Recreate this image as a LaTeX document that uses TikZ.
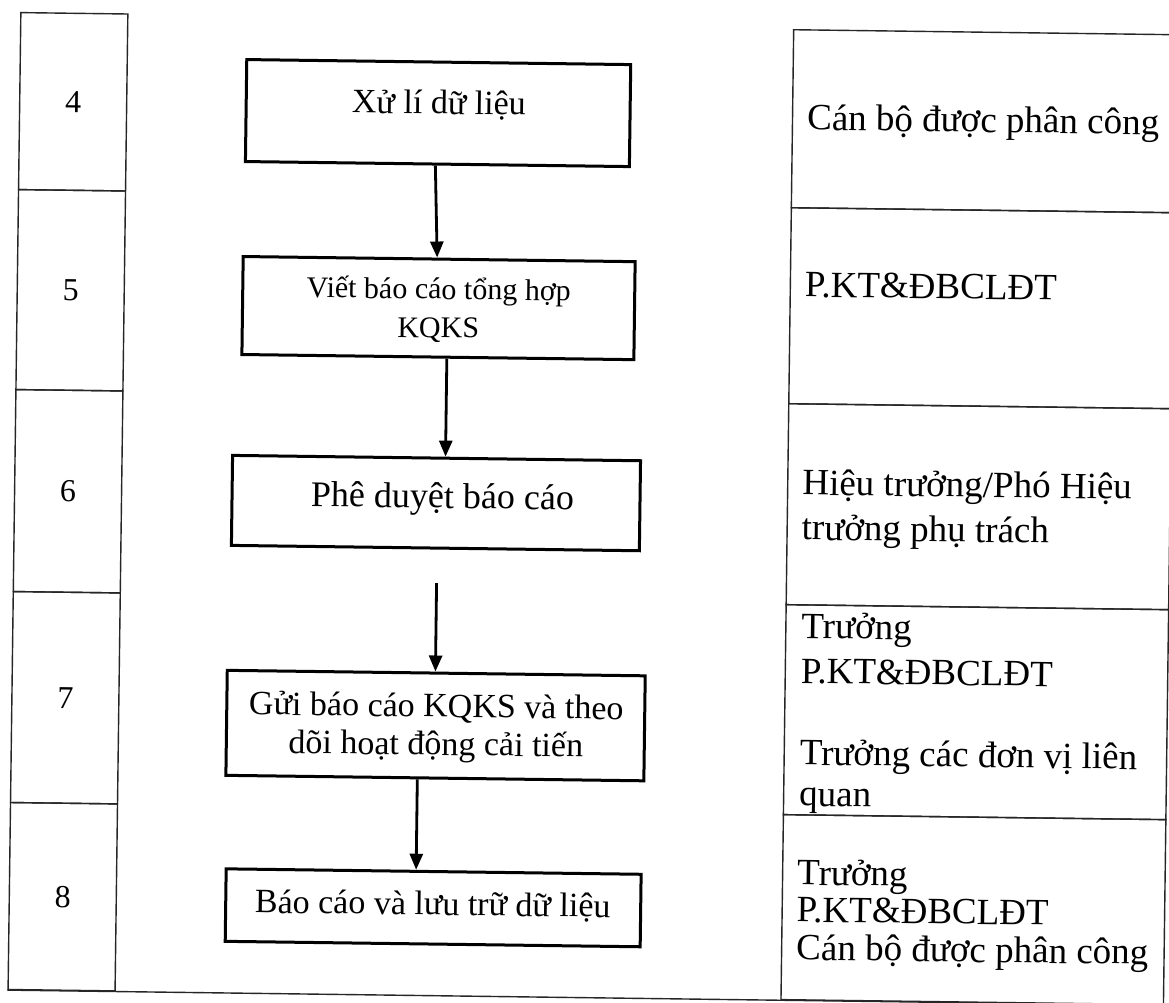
\documentclass[tikz,border=0pt]{standalone}
\usepackage{fontspec}
\setmainfont{Liberation Serif}
\usetikzlibrary{arrows.meta}
\begin{document}
\begin{tikzpicture}[x=1pt,y=-1pt,
  cell/.style={draw=black!85, line width=1.4pt, rectangle, inner sep=0pt, font=\fontsize{32}{38}\selectfont},
  tbl/.style={draw=black!85, line width=1.4pt},
  stepbox/.style={draw=black, line width=3pt, rectangle, inner sep=0pt},
  arr/.style={draw=black, line width=2.8pt, -{Triangle[length=16pt,width=13pt]}},
  btxt/.style={font=\fontsize{34}{40}\selectfont, anchor=base, inner sep=0pt},
  rtxt/.style={font=\fontsize{37}{44}\selectfont, anchor=base west, inner sep=0pt},
]
\fill[white] (0,0) rectangle (1169,1002);
\useasboundingbox (0,0) rectangle (1169,1002);
\begin{scope}[rotate around={-0.75:(584,501)}, transform shape]
% left column cells
\node[cell, minimum width=107pt, minimum height=177pt] (c4) at (68,108.5) {4};
\node[cell, minimum width=107pt, minimum height=200pt] (c5) at (68,297) {5};
\node[cell, minimum width=107pt, minimum height=202pt] (c6) at (68,498) {6};
\node[cell, minimum width=107pt, minimum height=211pt] (c7) at (68,704.5) {7};
\node[cell, minimum width=107pt, minimum height=187pt] (c8) at (68,903.5) {8};
% right column cells
\node[cell, minimum width=382.5pt, minimum height=178pt] (r4) at (978.75,116) {};
\node[cell, minimum width=382.5pt, minimum height=196pt] (r5) at (978.75,303) {};
\node[cell, minimum width=382.5pt, minimum height=201pt] (r6) at (978.75,501.5) {};
\node[cell, minimum width=382.5pt, minimum height=210pt] (r7) at (978.75,707) {};
\node[cell, minimum width=382.5pt, minimum height=185pt] (r8) at (978.75,904.5) {};
\draw[tbl] (c8.south west) -- (r8.south east);
% flow boxes
\node[stepbox, minimum width=384pt, minimum height=102pt] (b1) at (433,115) {};
\node[stepbox, minimum width=392pt, minimum height=98pt] (b2) at (436,310) {};
\node[stepbox, minimum width=408pt, minimum height=90pt] (b3) at (436,505) {};
\node[stepbox, minimum width=418pt, minimum height=105pt] (b4) at (438.5,727.5) {};
\node[stepbox, minimum width=415pt, minimum height=72.5pt] (b5) at (438.5,909.75) {};
% box texts
\node[btxt] (t1) at (433.7,116) {Xử lí dữ liệu};
\node[btxt, font=\fontsize{30}{36}\selectfont] (t2a) at (436,301) {Viết báo cáo tổng hợp};
\node[btxt, font=\fontsize{30}{36}\selectfont] (t2b) at (436,339.5) {KQKS};
\node[btxt, font=\fontsize{36}{42}\selectfont] (t3) at (442.5,510) {Phê duyệt báo cáo};
\node[btxt] (t4a) at (439,719) {Gửi báo cáo KQKS và theo};
\node[btxt] (t4b) at (439,757) {dõi hoạt động cải tiến};
\node[btxt] (t5) at (438,917) {Báo cáo và lưu trữ dữ liệu};
% right texts
\node[rtxt] (p4) at (802,127) {Cán bộ được phân công};
\node[rtxt] (p5) at (802,294) {P.KT\&ĐBCLĐT};
\node[rtxt] (p6a) at (802,492) {Hiệu trưởng/Phó Hiệu};
\node[rtxt] (p6b) at (802,537) {trưởng phụ trách};
\node[rtxt] (p7a) at (803,635.4) {Trưởng};
\node[rtxt] (p7b) at (803,680.4) {P.KT\&ĐBCLĐT};
\node[rtxt] (p7c) at (803,762) {Trưởng các đơn vị liên};
\node[rtxt] (p7d) at (803,803) {quan};
\node[rtxt] (p8a) at (802,882) {Trưởng};
\node[rtxt] (p8b) at (802,919) {P.KT\&ĐBCLĐT};
\node[rtxt] (p8c) at (802,957) {Cán bộ được phân công};
% arrows
\coordinate (s3) at (437.7,585);
\draw[arr] ([xshift=-2pt]b1.south) -- ([xshift=-2pt]b2.north);
\draw[arr] ([xshift=9pt]b2.south) -- ([xshift=9pt]b3.north);
\draw[arr] (s3) -- (s3 |- b4.north);
\draw[arr] ([xshift=-17.5pt]b4.south) -- ([xshift=-17.5pt]b5.north);
\end{scope}
\end{tikzpicture}
\end{document}
